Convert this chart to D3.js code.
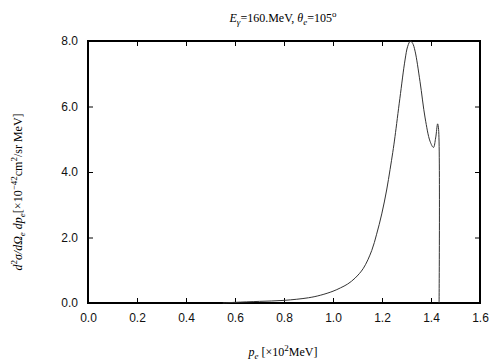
<!DOCTYPE html>
<html>
<head>
<meta charset="utf-8">
<script src="https://cdn.jsdelivr.net/npm/d3@7"></script>
<style>
  body { margin: 0; background: #fff; }
  .tick text { font-family: "Liberation Sans", Arial, sans-serif; font-size: 12px; fill: #111; }
  .lbl { font-family: "Liberation Serif", "Times New Roman", serif; font-size: 12px; }
</style>
</head>
<body>
<svg width="504" height="360"></svg>
<script>
// electron momentum [x10^2 MeV] and cross section [x10^-42 cm^2/sr MeV]
const pe = [0.55, 0.6, 0.7, 0.8, 0.9, 0.95, 1.0, 1.03, 1.06, 1.09, 1.124, 1.158, 1.178, 1.199,
            1.219, 1.233, 1.244, 1.253, 1.273, 1.294, 1.305, 1.316, 1.325, 1.335, 1.355,
            1.376, 1.396, 1.41, 1.419, 1.427, 1.431, 1.433];
const xs = [0.0, 0.02, 0.05, 0.08, 0.16, 0.24, 0.36, 0.46, 0.58, 0.76, 1.06, 1.6, 2.1, 2.72,
            3.45, 4.08, 4.6, 5.08, 6.25, 7.42, 7.84, 8.0, 7.93, 7.69, 6.77,
            5.65, 4.94, 4.75, 5.04, 5.47, 5.3, 0.0];
const xTicks = [0, 0.2, 0.4, 0.6, 0.8, 1.0, 1.2, 1.4, 1.6];
const yTicks = [0, 2, 4, 6, 8];

const L = 88, R = 480, T = 41, B = 303;
const svg = d3.select('svg');
const x = d3.scaleLinear().domain([0, 1.6]).range([L, R]);
const y = d3.scaleLinear().domain([0, 8]).range([B, T]);

// inward ticks on all four sides
const tl = 5;
svg.append('g').attr('transform', `translate(0,${B})`)
   .call(d3.axisBottom(x).tickValues(xTicks).tickFormat(d3.format('.1f')).tickSize(-tl).tickPadding(10))
   .call(g => g.select('.domain').remove());
svg.append('g').attr('transform', `translate(0,${T})`)
   .call(d3.axisTop(x).tickValues(xTicks).tickFormat('').tickSize(-tl))
   .call(g => g.select('.domain').remove());
svg.append('g').attr('transform', `translate(${L},0)`)
   .call(d3.axisLeft(y).tickValues(yTicks).tickFormat(d3.format('.1f')).tickSize(-tl).tickPadding(10))
   .call(g => g.select('.domain').remove());
svg.append('g').attr('transform', `translate(${R},0)`)
   .call(d3.axisRight(y).tickValues(yTicks).tickFormat('').tickSize(-tl))
   .call(g => g.select('.domain').remove());

svg.append('rect').attr('x', L).attr('y', T).attr('width', R - L).attr('height', B - T)
   .attr('fill', 'none').attr('stroke', '#000').attr('stroke-width', 2);

const line = d3.line().x((d, i) => x(pe[i])).y(d => y(d)).curve(d3.curveCatmullRom.alpha(0.5));
svg.append('path').datum(xs).attr('d', line)
   .attr('fill', 'none').attr('stroke', '#333').attr('stroke-width', 1);

// title
const t = svg.append('text').attr('class', 'lbl').attr('x', 283).attr('y', 22).attr('text-anchor', 'middle');
t.append('tspan').attr('font-style', 'italic').text('E');
t.append('tspan').attr('font-style', 'italic').attr('font-size', 9).attr('dy', 3).text('γ');
t.append('tspan').attr('dy', -3).text('=160.MeV,  ');
t.append('tspan').attr('font-style', 'italic').text('θ');
t.append('tspan').attr('font-style', 'italic').attr('font-size', 9).attr('dy', 3).text('e');
t.append('tspan').attr('dy', -3).text('=105');
t.append('tspan').attr('font-size', 9).attr('dy', -5).text('o');

// x label
const xl = svg.append('text').attr('class', 'lbl').attr('x', 283).attr('y', 356).attr('text-anchor', 'middle');
xl.append('tspan').attr('font-style', 'italic').text('p');
xl.append('tspan').attr('font-style', 'italic').attr('font-size', 9).attr('dy', 3).text('e');
xl.append('tspan').attr('dy', -3).text(' [×10');
xl.append('tspan').attr('font-size', 9).attr('dy', -5).text('2');
xl.append('tspan').attr('dy', 5).text('MeV]');

// y label
const yl = svg.append('text').attr('class', 'lbl')
   .attr('transform', 'translate(22,192) rotate(-90)').attr('text-anchor', 'middle');
yl.append('tspan').attr('font-style', 'italic').text('d');
yl.append('tspan').attr('font-size', 9).attr('dy', -5).text('2');
yl.append('tspan').attr('font-style', 'italic').attr('dy', 5).text('σ/dΩ');
yl.append('tspan').attr('font-style', 'italic').attr('font-size', 9).attr('dy', 3).text('e');
yl.append('tspan').attr('font-style', 'italic').attr('dy', -3).text(' dp');
yl.append('tspan').attr('font-style', 'italic').attr('font-size', 9).attr('dy', 3).text('e');
yl.append('tspan').attr('dy', -3).text('[×10');
yl.append('tspan').attr('font-size', 9).attr('dy', -5).text('−42');
yl.append('tspan').attr('dy', 5).text('cm');
yl.append('tspan').attr('font-size', 9).attr('dy', -5).text('2');
yl.append('tspan').attr('dy', 5).text('/sr MeV]');
</script>
</body>
</html>
